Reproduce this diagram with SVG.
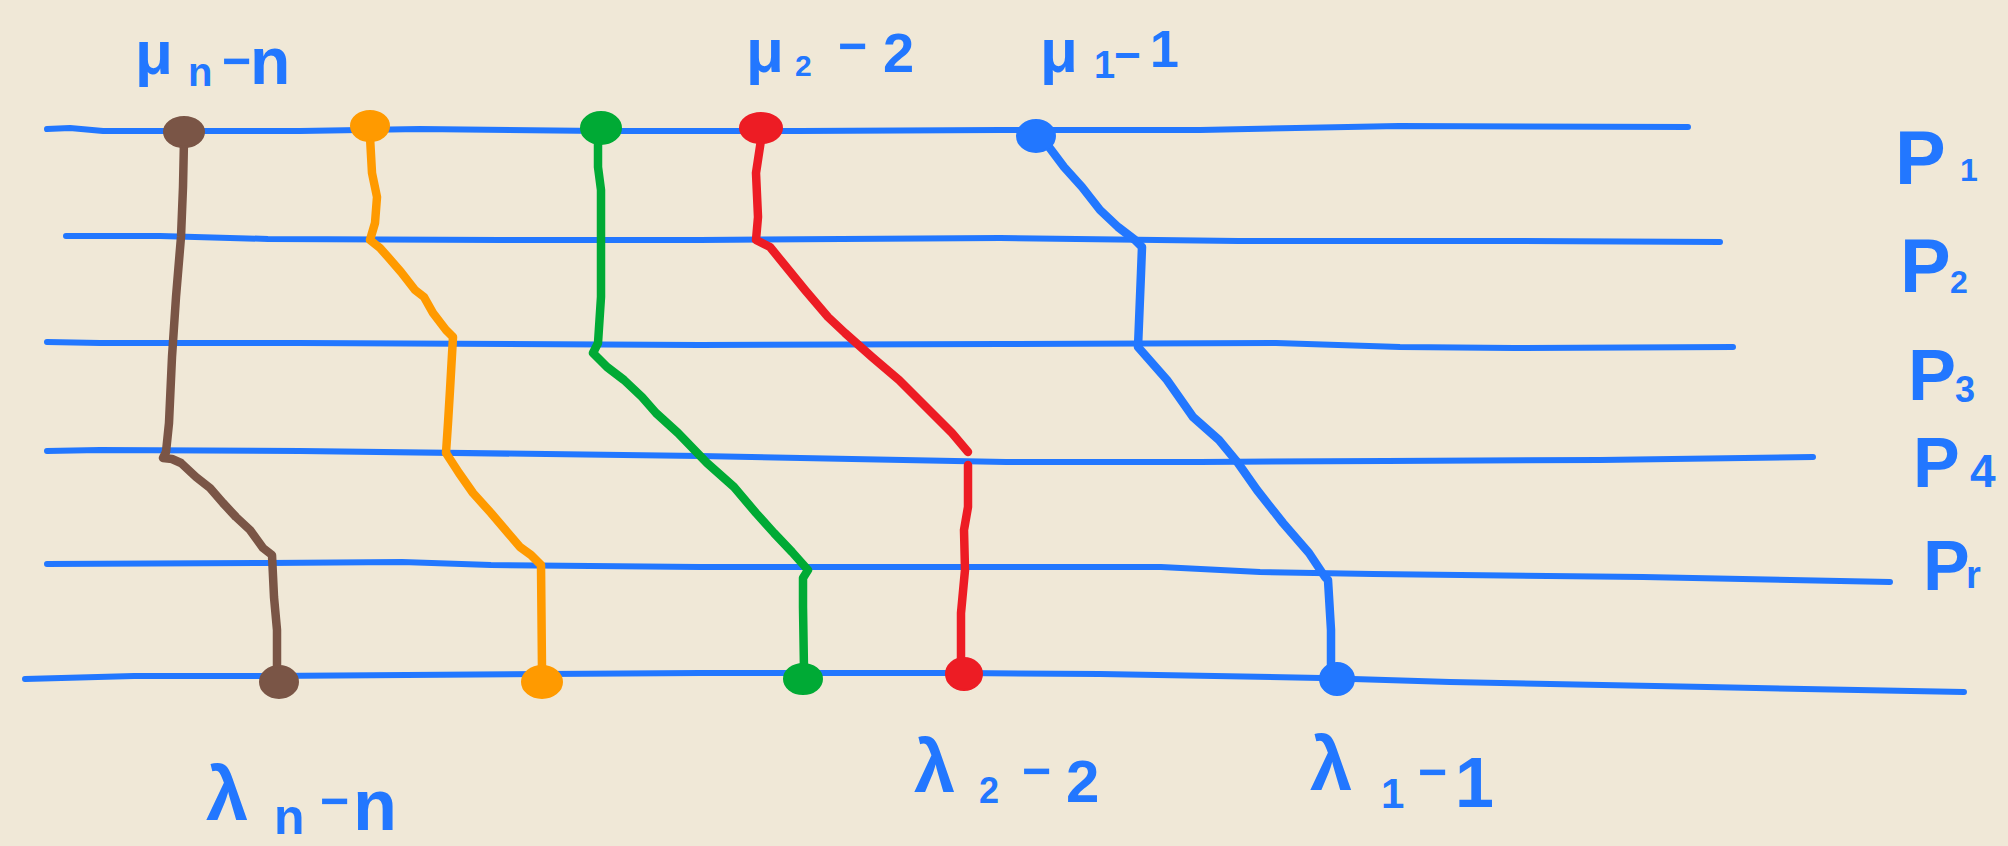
<svg xmlns="http://www.w3.org/2000/svg" width="2008" height="846" viewBox="0 0 2008 846">
<style>
.lane{fill:none;stroke:#2277ff;stroke-width:6;stroke-linecap:round;stroke-linejoin:round}
.t{font-family:"Liberation Sans",Arial,sans-serif;fill:#2277ff;font-weight:bold}
.brown{stroke:#7a5546;fill:#7a5546}
.orange{stroke:#ff9a00;fill:#ff9a00}
.green{stroke:#00aa35;fill:#00aa35}
.red{stroke:#ed1c24;fill:#ed1c24}
.blue{stroke:#2277ff;fill:#2277ff}
polyline.p{fill:none;stroke-width:8.5;stroke-linecap:round;stroke-linejoin:round}
ellipse.d{stroke-width:2}
</style>
<rect x="0" y="0" width="2008" height="846" fill="#f0e8d7"/>
<g id="lanes">
<polyline class="lane" points="47,129 70,128 103,131 200,131 300,131 420,129 600,131 800,131 1000,130 1200,130 1399,126 1688,127"/>
<polyline class="lane" points="66,236 160,236 268,239 500,240 700,240 1000,238 1238,241 1500,241 1720,242"/>
<polyline class="lane" points="47,342 100,343 300,343 700,345 1000,344 1276,343 1400,347 1514,348 1733,347"/>
<polyline class="lane" points="47,451 100,450 300,451 700,456 1006,462 1200,462 1386,461 1600,460 1813,457"/>
<polyline class="lane" points="47,564 268,563 402,562 491,565 700,567 1000,567 1161,567 1260,572 1373,574 1643,577 1890,582"/>
<polyline class="lane" points="25,679 134,676 268,676 700,673 962,673 1100,674 1321,678 1450,682 1707,687 1964,692"/>
</g>
<g id="connectors">
<polyline class="p brown" points="184,140 183,187 181,237 176,297 172,357 169,423 166,452 163,458 172,459 181,463 196,477 210,488 223,503 236,517 250,530 263,548 272,555 274,597 277,630 277,670"/>
<polyline class="p orange" points="370,137 372,173 377,197 375,223 370,240 380,248 388,257 401,272 415,290 424,297 433,313 446,330 453,337 450,390 448,423 446,453 459,473 473,493 491,513 508,533 520,547 531,555 541,565 542,670"/>
<polyline class="p green" points="598,140 598,167 601,190 601,297 598,343 593,353 607,367 624,380 642,397 656,413 678,433 707,463 734,487 756,513 774,533 792,552 808,570 803,578 803,607 804,670"/>
<polyline class="p red" points="761,140 756,173 758,217 756,240 770,247 783,263 805,290 828,317 845,333 872,357 899,380 926,407 952,433 968,452"/>
<polyline class="p red" points="968,465 968,507 964,530 965,570 961,613 961,663"/>
<polyline class="p blue" points="1046,143 1064,167 1082,187 1100,210 1118,227 1135,240 1142,247 1141,273 1138,347 1167,380 1193,417 1219,440 1238,463 1257,490 1283,523 1309,553 1325,577 1328,580 1331,630 1331,670"/>
</g>
<g id="dot-brown-top"><ellipse class="d brown" cx="184" cy="132" rx="20" ry="15"/></g>
<g id="dot-orange-top"><ellipse class="d orange" cx="370" cy="126" rx="19" ry="15"/></g>
<g id="dot-green-top"><ellipse class="d green" cx="601" cy="128" rx="20" ry="16"/></g>
<g id="dot-red-top"><ellipse class="d red" cx="761" cy="128" rx="21" ry="15"/></g>
<g id="dot-blue-top"><ellipse class="d blue" cx="1036" cy="136" rx="19" ry="16"/></g>
<g id="dot-brown-bottom"><ellipse class="d brown" cx="279" cy="682" rx="19" ry="16"/></g>
<g id="dot-orange-bottom"><ellipse class="d orange" cx="542" cy="682" rx="20" ry="16"/></g>
<g id="dot-green-bottom"><ellipse class="d green" cx="803" cy="679" rx="19" ry="15"/></g>
<g id="dot-red-bottom"><ellipse class="d red" cx="964" cy="674" rx="18" ry="16"/></g>
<g id="dot-blue-bottom"><ellipse class="d blue" cx="1337" cy="679" rx="17" ry="16"/></g>
<g id="labels">
<text class="t"><tspan x="135" y="74" font-size="62">μ</tspan><tspan x="188" y="86" font-size="40">n</tspan><tspan x="222" y="78" font-size="50">−</tspan><tspan x="250" y="84" font-size="66">n</tspan></text>
<text class="t"><tspan x="746" y="72" font-size="62">μ</tspan><tspan x="795" y="76" font-size="30">2</tspan><tspan x="838" y="63" font-size="50">−</tspan><tspan x="883" y="72" font-size="56">2</tspan></text>
<text class="t"><tspan x="1040" y="72" font-size="62">μ</tspan><tspan x="1094" y="78" font-size="38">1</tspan><tspan x="1114" y="71" font-size="46">−</tspan><tspan x="1150" y="67" font-size="52">1</tspan></text>
<text class="t"><tspan x="1895" y="184" font-size="76">P</tspan><tspan x="1960" y="181" font-size="32">1</tspan></text>
<text class="t"><tspan x="1900" y="292" font-size="76">P</tspan><tspan x="1950" y="293" font-size="32">2</tspan></text>
<text class="t"><tspan x="1908" y="400" font-size="72">P</tspan><tspan x="1955" y="402" font-size="36">3</tspan></text>
<text class="t"><tspan x="1913" y="487" font-size="70">P</tspan><tspan x="1970" y="487" font-size="46">4</tspan></text>
<text class="t"><tspan x="1923" y="590" font-size="70">P</tspan><tspan x="1966" y="588" font-size="38">r</tspan></text>
<text class="t"><tspan x="206" y="820" font-size="76">λ</tspan><tspan x="274" y="834" font-size="50">n</tspan><tspan x="320" y="818" font-size="50">−</tspan><tspan x="353" y="830" font-size="72">n</tspan></text>
<text class="t"><tspan x="914" y="792" font-size="74">λ</tspan><tspan x="979" y="803" font-size="36">2</tspan><tspan x="1022" y="788" font-size="50">−</tspan><tspan x="1066" y="802" font-size="60">2</tspan></text>
<text class="t"><tspan x="1310" y="790" font-size="76">λ</tspan><tspan x="1381" y="808" font-size="42">1</tspan><tspan x="1418" y="789" font-size="50">−</tspan><tspan x="1455" y="807" font-size="70">1</tspan></text>
</g>
</svg>
